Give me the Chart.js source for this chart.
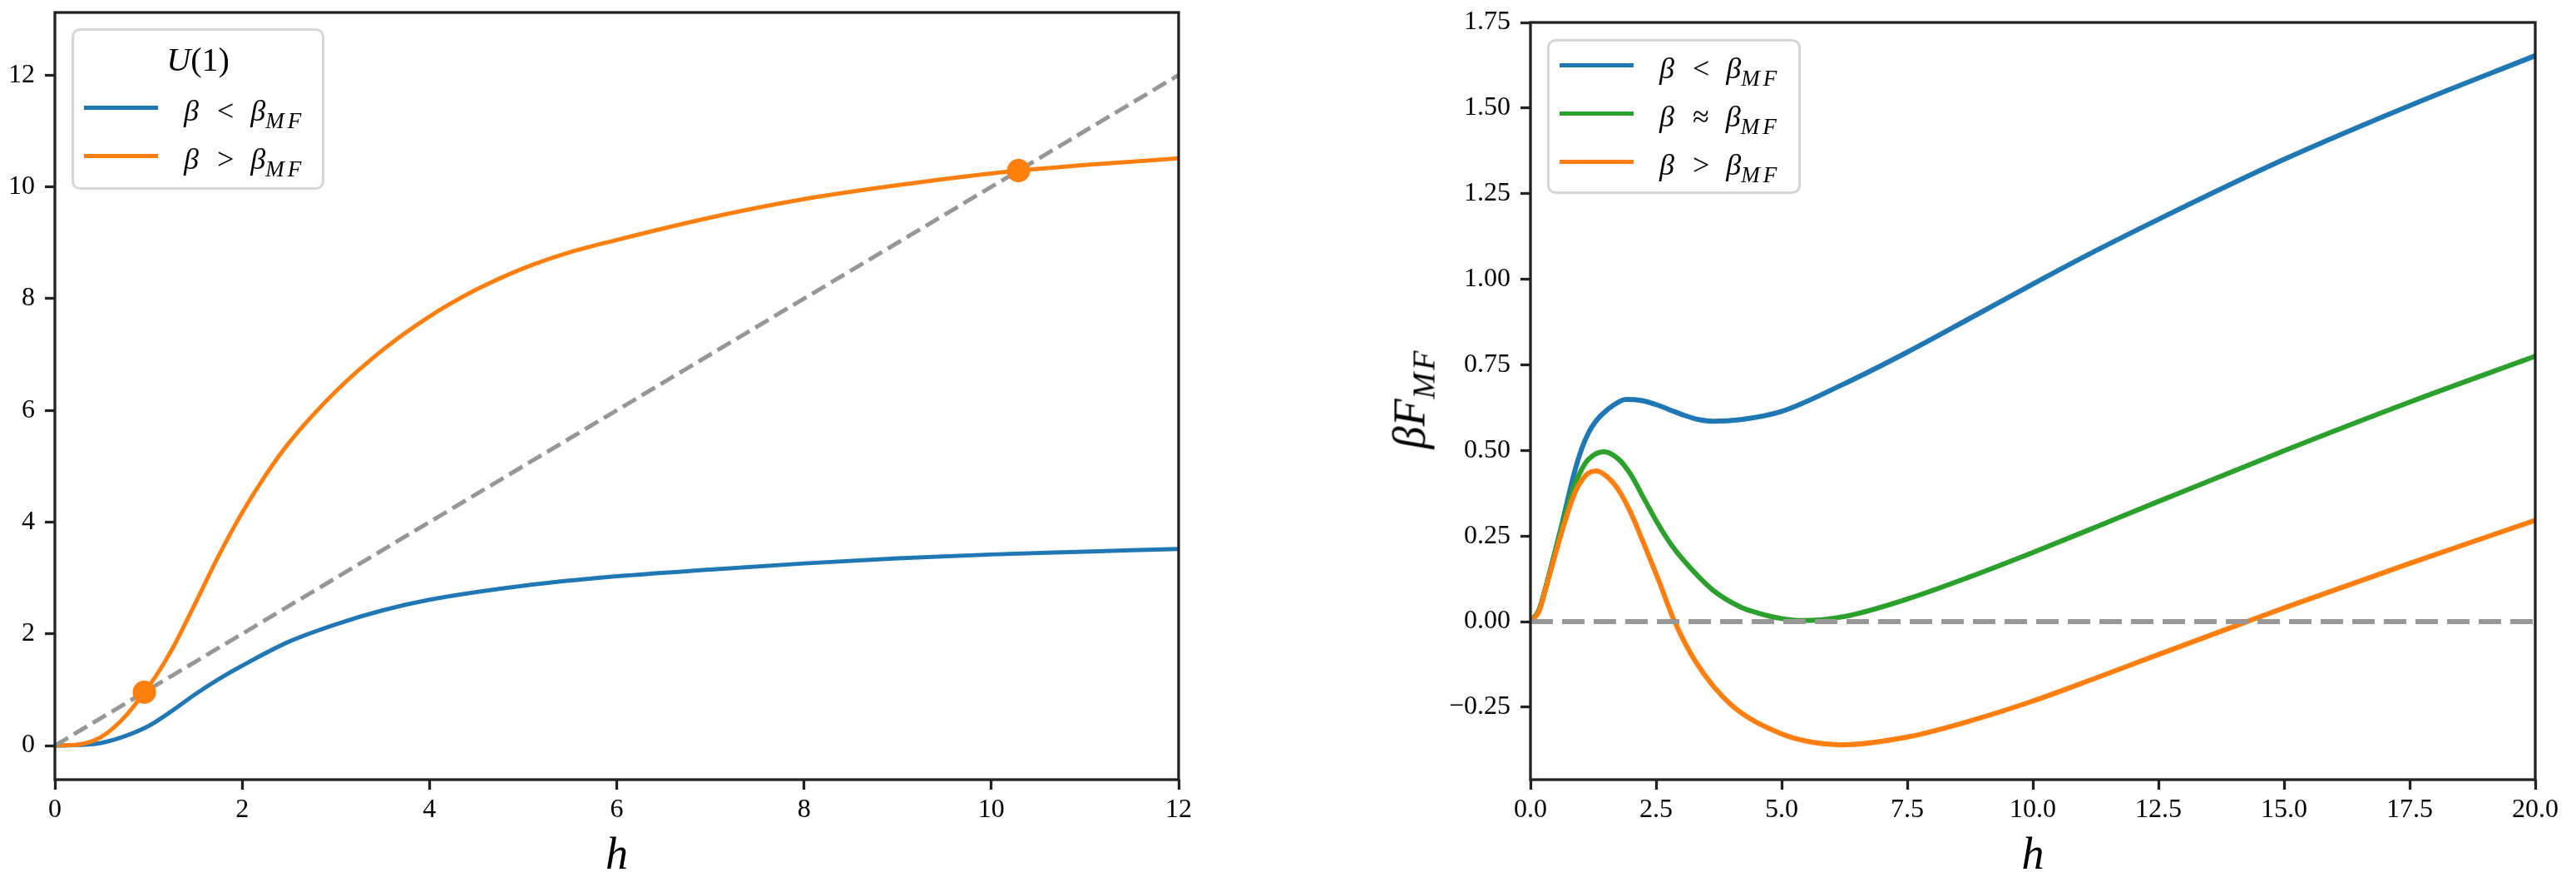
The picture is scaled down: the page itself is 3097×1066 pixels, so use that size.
<!DOCTYPE html>
<html>
<head>
<meta charset="utf-8">
<script src="https://cdn.jsdelivr.net/npm/chart.js@4.4.1/dist/chart.umd.min.js"></script>
<style>
html,body{margin:0;padding:0;background:#fff;width:3097px;height:1066px;overflow:hidden;}
#wrap{position:relative;width:3097px;height:1066px;}
canvas{position:absolute;top:0;}
.leg{position:absolute;box-sizing:border-box;border:3px solid #d6d6d6;border-radius:10px;background:rgba(255,255,255,0.8);z-index:2;}
.sw{position:absolute;height:5px;z-index:3;}
.lt{position:absolute;font-family:"Liberation Serif",serif;font-size:36px;line-height:36px;white-space:nowrap;color:#000;z-index:3;}
.lt i{font-style:italic;}
.lt .rel{display:inline-block;margin:0 20px 0 22px;}
.lt sub{font-size:27px;vertical-align:baseline;position:relative;top:9px;letter-spacing:4px;font-style:italic;}
.ttl{position:absolute;font-family:"Liberation Serif",serif;font-size:40px;line-height:40px;text-align:center;white-space:nowrap;z-index:3;}
.ttl i{font-style:italic;}
.ylab{position:absolute;font-family:"Liberation Serif",serif;font-size:54px;line-height:54px;white-space:nowrap;transform:translate(-50%,-50%) rotate(-90deg);z-index:3;}
.ylab i{font-style:italic;}
.ylab sub{font-size:38px;vertical-align:baseline;position:relative;top:12px;font-style:italic;letter-spacing:3px;}
</style>
</head>
<body>
<div id="wrap">
<canvas id="cl" width="1460" height="1066" style="left:0px"></canvas>
<canvas id="cr" width="1457" height="1066" style="left:1640px"></canvas>
</div>
<script>
// ---------------- Left panel: U(1) self-consistency ----------------
const leftHBlue   = [0, 0.25, 0.5, 0.75, 1.0, 1.25, 1.5, 1.75, 2.0, 2.5, 3.0, 3.5, 4.0, 5.0, 6.0, 7, 8, 9, 10, 11, 12];
const leftUBlue   = [0, 0.01, 0.05, 0.17, 0.35, 0.62, 0.92, 1.19, 1.43, 1.86, 2.17, 2.42, 2.61, 2.86, 3.03, 3.15, 3.26, 3.35, 3.42, 3.47, 3.52];
const leftHOrange = [0, 0.25, 0.5, 0.75, 0.955, 1.1, 1.25, 1.5, 1.75, 2.0, 2.25, 2.5, 3.0, 3.5, 4.0, 4.5, 5.0, 5.5, 6.0, 7, 8, 9, 10, 11, 12];
const leftUOrange = [0, 0.02, 0.16, 0.52, 0.955, 1.30, 1.72, 2.55, 3.40, 4.17, 4.84, 5.42, 6.34, 7.08, 7.68, 8.16, 8.54, 8.83, 9.05, 9.45, 9.78, 10.03, 10.24, 10.39, 10.51];
const leftDiagH   = [0, 12];
const leftDiagU   = [0, 12];
const fixedPointH = [0.955, 10.29];
const fixedPointU = [0.955, 10.29];
const leftXTicks  = [0, 2, 4, 6, 8, 10, 12];
const leftXLabels = ['0', '2', '4', '6', '8', '10', '12'];
const leftYTicks  = [0, 2, 4, 6, 8, 10, 12];
const leftYLabels = ['0', '2', '4', '6', '8', '10', '12'];
const leftXRange  = [0, 12];
const leftYRange  = [-0.61, 13.12];
const leftLegendTitle = ['U', '(1)'];
const leftLegendRel   = ['<', '>'];

// ---------------- Right panel: beta F_MF ----------------
const rightHBlue   = [0, 0.17, 0.33, 0.61, 0.88, 1.02, 1.16, 1.3, 1.43, 1.65, 1.9, 2.2, 2.54, 2.8, 3.09, 3.35, 3.64, 4.19, 5.0, 6.25, 7.5, 8.75, 10, 11.25, 12.5, 15, 17.5, 20];
const rightFBlue   = [0, 0.034, 0.115, 0.275, 0.439, 0.505, 0.553, 0.585, 0.606, 0.632, 0.649, 0.646, 0.632, 0.617, 0.601, 0.590, 0.585, 0.590, 0.614, 0.695, 0.787, 0.886, 0.986, 1.083, 1.175, 1.350, 1.507, 1.653];
const rightHGreen  = [0, 0.17, 0.33, 0.61, 0.88, 1.02, 1.16, 1.46, 1.75, 1.99, 2.25, 2.54, 2.8, 3.09, 3.64, 4.19, 4.53, 5.0, 5.41, 6.25, 7.5, 8.75, 10, 11.25, 12.5, 15, 17.5, 20];
const rightFGreen  = [0, 0.034, 0.113, 0.27, 0.40, 0.445, 0.475, 0.496, 0.475, 0.431, 0.362, 0.285, 0.225, 0.172, 0.091, 0.042, 0.025, 0.009, 0.003, 0.015, 0.066, 0.131, 0.202, 0.276, 0.351, 0.499, 0.641, 0.775];
const rightHOrange = [0, 0.17, 0.33, 0.61, 0.88, 1.1, 1.31, 1.55, 1.75, 1.99, 2.25, 2.54, 2.87, 3.3, 3.98, 5.0, 5.63, 6.18, 7.5, 8.75, 10, 11.25, 12.5, 14.26, 15, 17.5, 20];
const rightFOrange = [0, 0.03, 0.11, 0.255, 0.375, 0.427, 0.440, 0.420, 0.385, 0.320, 0.230, 0.125, 0.0, -0.12, -0.241, -0.328, -0.353, -0.360, -0.337, -0.290, -0.232, -0.165, -0.096, 0.0, 0.040, 0.170, 0.296];
const rightZeroH   = [0, 20];
const rightZeroF   = [0, 0];
const rightXTicks  = [0, 2.5, 5, 7.5, 10, 12.5, 15, 17.5, 20];
const rightXLabels = ['0.0', '2.5', '5.0', '7.5', '10.0', '12.5', '15.0', '17.5', '20.0'];
const rightYTicks  = [-0.25, 0, 0.25, 0.5, 0.75, 1.0, 1.25, 1.5, 1.75];
const rightYLabels = ['\u22120.25', '0.00', '0.25', '0.50', '0.75', '1.00', '1.25', '1.50', '1.75'];
const rightXRange  = [0, 20];
const rightYRange  = [-0.4616, 1.75];
const rightLegendRel = ['<', '\u2248', '>'];

const xTitle = 'h';
const yTitleRight = ['\u03b2', 'F', 'MF'];

const C_BLUE = '#1f77b4', C_ORANGE = '#ff7f0e', C_GREEN = '#2ca02c', C_GRAY = '#979797';

const pts = (xs, ys) => xs.map((x, i) => ({x: x, y: ys[i]}));

const framePlugin = {
  id: 'frame',
  afterDraw(chart) {
    const {ctx, chartArea: a} = chart;
    ctx.save();
    ctx.strokeStyle = '#222';
    ctx.lineWidth = 3.3;
    ctx.strokeRect(a.left, a.top, a.right - a.left, a.bottom - a.top);
    ctx.restore();
  }
};

function axisX(range, ticks, labels, h) {
  return {
    type: 'linear', min: range[0], max: range[1],
    afterBuildTicks: s => { s.ticks = ticks.map(v => ({value: v})); },
    afterFit: s => { s.height = h; s.paddingLeft = 0; s.paddingRight = 0; },
    border: {display: false},
    grid: {display: true, drawOnChartArea: false, drawTicks: true, tickLength: 12, tickWidth: 3.3, tickColor: '#222'},
    ticks: {color: '#000', font: {family: 'Liberation Serif', size: 32}, padding: 5, maxRotation: 0, autoSkip: false,
            callback: (v, i) => labels[i]},
    title: {display: true, text: xTitle, color: '#000', font: {family: 'Liberation Serif', style: 'italic', size: 54}, padding: {top: 0, bottom: 4}}
  };
}
function axisY(range, ticks, labels, w) {
  return {
    type: 'linear', min: range[0], max: range[1],
    afterBuildTicks: s => { s.ticks = ticks.map(v => ({value: v})); },
    afterFit: s => { s.width = w; s.paddingTop = 0; s.paddingBottom = 0; },
    border: {display: false},
    grid: {display: true, drawOnChartArea: false, drawTicks: true, tickLength: 12, tickWidth: 3.3, tickColor: '#222'},
    ticks: {color: '#000', font: {family: 'Liberation Serif', size: 32}, padding: 12, autoSkip: false,
            callback: (v, i) => labels[i]}
  };
}
const lineDs = (data, color, width, order, dash) => ({
  data: data, borderColor: color, backgroundColor: color, borderWidth: width,
  pointRadius: 0, pointHoverRadius: 0, cubicInterpolationMode: 'monotone', fill: false,
  borderDash: dash || [], order: order
});

const common = {
  responsive: false, animation: false, devicePixelRatio: 1,
  plugins: {legend: {display: false}, tooltip: {enabled: false}},
  events: []
};

new Chart(document.getElementById('cl'), {
  type: 'line',
  data: {datasets: [
    {type: 'scatter', data: pts(fixedPointH, fixedPointU), pointRadius: 14, pointHoverRadius: 14,
     backgroundColor: C_ORANGE, borderColor: C_ORANGE, borderWidth: 0, order: 0, showLine: false},
    lineDs(pts(leftDiagH, leftDiagU), C_GRAY, 5, 1, [18.5, 8]),
    lineDs(pts(leftHOrange, leftUOrange), C_ORANGE, 5, 2),
    lineDs(pts(leftHBlue, leftUBlue), C_BLUE, 5, 3)
  ]},
  options: Object.assign({}, common, {
    layout: {padding: {top: 15, right: 43, left: 0, bottom: 0}},
    scales: {x: axisX(leftXRange, leftXTicks, leftXLabels, 129), y: axisY(leftYRange, leftYTicks, leftYLabels, 66)}
  }),
  plugins: [framePlugin]
});

new Chart(document.getElementById('cr'), {
  type: 'line',
  data: {datasets: [
    lineDs(pts(rightZeroH, rightZeroF), C_GRAY, 6, 0, [27, 11]),
    lineDs(pts(rightHOrange, rightFOrange), C_ORANGE, 6, 1),
    lineDs(pts(rightHGreen, rightFGreen), C_GREEN, 6, 2),
    lineDs(pts(rightHBlue, rightFBlue), C_BLUE, 6, 3)
  ]},
  options: Object.assign({}, common, {
    layout: {padding: {top: 27, right: 49, left: 0, bottom: 0}},
    scales: {x: axisX(rightXRange, rightXTicks, rightXLabels, 129), y: axisY(rightYRange, rightYTicks, rightYLabels, 200)}
  }),
  plugins: [framePlugin]
});

// ---------------- Legends and y label (HTML text) ----------------
const wrap = document.getElementById('wrap');
function el(cls, css, html) {
  const d = document.createElement('div');
  d.className = cls;
  Object.assign(d.style, css);
  if (html !== undefined) d.innerHTML = html;
  wrap.appendChild(d);
  return d;
}
function legend(boxLeft, boxTop, boxW, boxH, rows, colors, rels, title) {
  el('leg', {left: boxLeft + 'px', top: boxTop + 'px', width: boxW + 'px', height: boxH + 'px'});
  if (title) {
    el('ttl', {left: boxLeft + 'px', width: boxW + 'px', top: (boxTop + 18) + 'px'},
       '<i>' + title[0] + '</i>' + title[1]);
  }
  rows.forEach((y, i) => {
    el('sw', {left: (boxLeft + 15) + 'px', width: '89px', top: (y - 2.5) + 'px', background: colors[i]});
    el('lt', {left: (boxLeft + 135) + 'px', top: (y - 14) + 'px'},
       '<i>\u03b2</i><span class="rel">' + rels[i].replace('<', '&lt;').replace('>', '&gt;') + '</span><i>\u03b2</i><sub>MF</sub>');
  });
}
legend(86, 34, 304, 194, [129, 187], [C_BLUE, C_ORANGE], leftLegendRel, leftLegendTitle);
legend(1860, 47, 305, 186, [78, 136, 194], [C_BLUE, C_GREEN, C_ORANGE], rightLegendRel, null);
el('ylab', {left: '1697px', top: '479px'},
   '<i>' + yTitleRight[0] + '</i><i>' + yTitleRight[1] + '</i><sub>' + yTitleRight[2] + '</sub>');
</script>
</body>
</html>
